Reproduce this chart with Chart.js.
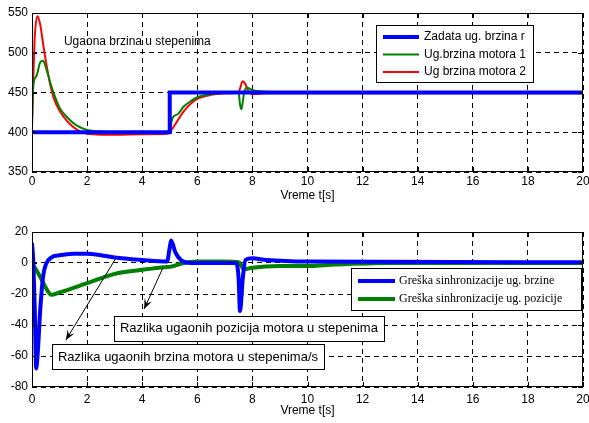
<!DOCTYPE html>
<html>
<head>
<meta charset="utf-8">
<script src="https://cdn.jsdelivr.net/npm/chart.js@4/dist/chart.umd.min.js"></script>
<style>
  body { margin: 0; background: #fff; }
  canvas { position: absolute; left: 0; }
</style>
</head>
<body>
<canvas id="cvTop" width="589" height="210" style="top:0"></canvas>
<canvas id="cvBottom" width="589" height="213" style="top:210px"></canvas>
<script>
// ---- top plot: angular speeds ----
const refT = [0, 5, 5, 20];
const refSpeed = [400, 400, 450, 450];

const m1T = [0, 0.05, 0.15, 0.3, 0.4, 0.5, 0.7, 1.0, 1.3, 1.6, 2.0, 2.5, 3, 4, 4.9, 5.0, 5.1, 5.3, 5.5, 5.8, 6.0, 6.5, 7.0, 7.5, 7.55, 7.6, 7.65, 7.7, 7.8, 8.0, 8.5, 9, 20];
const m1Speed = [410, 460, 470, 488, 490, 482, 458, 431, 418, 409, 403, 401, 400, 400, 400, 403, 418, 423, 432, 440, 444, 448, 450, 450, 435, 429, 438, 450, 456, 453, 451, 450, 450];

const m2T = [0, 0.05, 0.1, 0.2, 0.3, 0.4, 0.5, 0.65, 0.8, 1.0, 1.3, 1.6, 2.0, 2.5, 3, 4, 4.9, 5.0, 5.2, 5.5, 5.8, 6.0, 6.5, 7.0, 7.5, 7.55, 7.65, 7.75, 7.85, 8.0, 8.5, 9, 20];
const m2Speed = [410, 470, 520, 546, 535, 512, 490, 462, 442, 427, 413, 404, 398, 397, 397, 397.5, 398, 400, 410, 426, 437, 442, 447, 449, 450, 455, 464, 460, 452, 448, 449, 449, 449];

// ---- bottom plot: synchronisation errors ----
const velErrT = [0, 0.05, 0.1, 0.15, 0.2, 0.3, 0.4, 0.5, 0.7, 1, 1.5, 2, 2.5, 3, 4, 4.9, 5.0, 5.05, 5.2, 5.4, 5.8, 7.4, 7.5, 7.55, 7.65, 7.75, 8, 8.5, 10, 20];
const velErr = [13, 0, -30, -68, -60, -30, -9, -1, 3.5, 5, 6, 6, 5, 3.6, 2, 1, 10, 14.5, 7, 2, 0, 0, -10, -31, -10, 2, 3, 2, 1, 0.5];

const posErrT = [0, 0.3, 0.5, 0.7, 1, 2, 3, 4, 4.8, 5, 5.5, 6, 7, 7.5, 7.7, 8, 9, 10, 11, 13, 20];
const posErr = [0, -9, -16, -20.5, -19, -13, -7, -4.4, -2.7, -2.5, 0, 1, 1, 0.5, -4, -3, -2, -2, -1, 0, 0];

const xTicks = { min: 0, max: 20, step: 2 };
const topYTicks = { min: 350, max: 550, step: 50 };
const botYTicks = { min: -80, max: 20, step: 20 };

const topLabels = ['Zadata ug. brzina r', 'Ug.brzina motora 1', 'Ug brzina motora 2'];
const botLabels = ['Greška sinhronizacije ug. brzine', 'Greška sinhronizacije ug. pozicije'];
const xTitle = 'Vreme t[s]';

const pts = (t, v) => t.map((x, i) => ({ x: x, y: v[i] }));

const FONT = 'Liberation Sans, Arial, sans-serif';

// MATLAB-like axes box, inner ticks, notes, arrows and legend
const matlabBox = {
  id: 'matlabBox',
  afterDraw(chart, args, opts) {
    const { ctx, chartArea: a, scales: { x, y } } = chart;
    ctx.save();
    ctx.strokeStyle = '#000';
    ctx.lineWidth = 1;
    ctx.setLineDash([]);
    ctx.strokeRect(a.left + 0.5, a.top + 0.5, a.right - a.left - 1, a.bottom - a.top - 1);
    ctx.beginPath();
    x.ticks.forEach(t => {
      const p = Math.round(x.getPixelForValue(t.value)) + 0.5;
      ctx.moveTo(p, a.bottom); ctx.lineTo(p, a.bottom - 5);
      ctx.moveTo(p, a.top); ctx.lineTo(p, a.top + 5);
    });
    y.ticks.forEach(t => {
      const p = Math.round(y.getPixelForValue(t.value)) + 0.5;
      ctx.moveTo(a.left, p); ctx.lineTo(a.left + 5, p);
      ctx.moveTo(a.right, p); ctx.lineTo(a.right - 5, p);
    });
    ctx.stroke();

    // arrows (data coordinates)
    (opts.arrows || []).forEach(ar => {
      const x1 = x.getPixelForValue(ar.from[0]), y1 = y.getPixelForValue(ar.from[1]);
      const x2 = x.getPixelForValue(ar.to[0]), y2 = y.getPixelForValue(ar.to[1]);
      ctx.beginPath();
      ctx.moveTo(x1, y1); ctx.lineTo(x2, y2);
      ctx.stroke();
      const ang = Math.atan2(y2 - y1, x2 - x1);
      const hl = 10, hw = 4;
      ctx.beginPath();
      ctx.moveTo(x2, y2);
      ctx.lineTo(x2 - hl * Math.cos(ang) + hw * Math.sin(ang), y2 - hl * Math.sin(ang) - hw * Math.cos(ang));
      ctx.lineTo(x2 - hl * 0.6 * Math.cos(ang), y2 - hl * 0.6 * Math.sin(ang));
      ctx.lineTo(x2 - hl * Math.cos(ang) - hw * Math.sin(ang), y2 - hl * Math.sin(ang) + hw * Math.cos(ang));
      ctx.closePath();
      ctx.fillStyle = '#000';
      ctx.fill();
    });

    // text notes (data coordinates)
    ctx.textBaseline = 'middle';
    ctx.textAlign = 'left';
    (opts.notes || []).forEach(n => {
      ctx.font = (n.size || 12) + 'px ' + FONT;
      const px = x.getPixelForValue(n.x), py = y.getPixelForValue(n.y);
      if (n.box) {
        const w = ctx.measureText(n.text).width;
        ctx.fillStyle = '#fff';
        ctx.fillRect(px - 6, py - 12.5, w + 12, 25);
        ctx.strokeStyle = '#000';
        ctx.lineWidth = 1;
        ctx.strokeRect(Math.round(px - 6) + 0.5, Math.round(py - 12.5) + 0.5, Math.round(w + 12), 25);
      }
      ctx.fillStyle = '#000';
      ctx.fillText(n.text, px, py);
    });

    // legend
    const lg = opts.legend;
    if (lg) {
      ctx.fillStyle = '#fff';
      ctx.fillRect(lg.x, lg.y, lg.w, lg.h);
      ctx.strokeStyle = '#000';
      ctx.lineWidth = 1;
      ctx.strokeRect(lg.x + 0.5, lg.y + 0.5, lg.w, lg.h);
      ctx.font = lg.font;
      chart.data.datasets.forEach((ds, i) => {
        const ry = lg.y + lg.rowTop + i * lg.rowGap;
        ctx.strokeStyle = ds.borderColor;
        ctx.lineWidth = ds.borderWidth;
        ctx.beginPath();
        ctx.moveTo(lg.x + 7, ry); ctx.lineTo(lg.x + 7 + lg.lineLen, ry);
        ctx.stroke();
        ctx.fillStyle = '#000';
        ctx.fillText(ds.label, lg.x + lg.textX, ry);
      });
    }
    ctx.restore();
  }
};

function fixedAxis(size, isX) {
  return function (scale) {
    if (isX) scale.height = size; else scale.width = size;
    scale.paddingLeft = 0; scale.paddingRight = 0;
    scale.paddingTop = 0; scale.paddingBottom = 0;
  };
}

function makeOptions(yt, padTop, xHeight, titlePad, tickPad, pluginOpts) {
  const grid = { color: '#000', lineWidth: 1, drawTicks: false };
  return {
    responsive: false,
    animation: false,
    devicePixelRatio: 1,
    layout: { padding: { left: 0, right: 6, top: padTop, bottom: 0 } },
    plugins: { legend: { display: false }, tooltip: { enabled: false }, matlabBox: pluginOpts },
    elements: { point: { radius: 0 } },
    scales: {
      x: {
        type: 'linear', min: xTicks.min, max: xTicks.max,
        ticks: { stepSize: xTicks.step, color: '#000', font: { family: FONT, size: 12 }, padding: tickPad, maxRotation: 0 },
        grid: grid,
        border: { display: false, dash: [5, 4] },
        title: { display: true, text: xTitle, color: '#000', font: { family: FONT, size: 12 }, padding: { top: 0, bottom: titlePad } },
        afterFit: fixedAxis(xHeight, true)
      },
      y: {
        min: yt.min, max: yt.max,
        ticks: { stepSize: yt.step, color: '#000', font: { family: FONT, size: 12 }, padding: 4 },
        grid: grid,
        border: { display: false, dash: [5, 4] },
        afterFit: fixedAxis(32, false)
      }
    }
  };
}

new Chart(document.getElementById('cvTop'), {
  type: 'line',
  data: {
    datasets: [
      { label: topLabels[0], data: pts(refT, refSpeed), borderColor: '#0000ff', borderWidth: 4, tension: 0 },
      { label: topLabels[1], data: pts(m1T, m1Speed), borderColor: '#008000', borderWidth: 2, cubicInterpolationMode: 'monotone' },
      { label: topLabels[2], data: pts(m2T, m2Speed), borderColor: '#ff0000', borderWidth: 2, cubicInterpolationMode: 'monotone' }
    ]
  },
  options: makeOptions(topYTicks, 13, 38, 7, 2, {
    notes: [{ text: 'Ugaona brzina u stepenima', x: 1.16, y: 514 }],
    legend: { x: 376, y: 25, w: 157, h: 57, rowTop: 12, rowGap: 17.5, lineLen: 36, textX: 48, font: '12px ' + FONT }
  }),
  plugins: [matlabBox]
});

new Chart(document.getElementById('cvBottom'), {
  type: 'line',
  data: {
    datasets: [
      { label: botLabels[0], data: pts(velErrT, velErr), borderColor: '#0000ff', borderWidth: 4, cubicInterpolationMode: 'monotone' },
      { label: botLabels[1], data: pts(posErrT, posErr), borderColor: '#008000', borderWidth: 4, cubicInterpolationMode: 'monotone' }
    ]
  },
  options: makeOptions(botYTicks, 22, 36, 5, 5, {
    arrows: [
      { from: [3.05, 3.2], to: [1.23, -49.7] },
      { from: [4.75, -3.2], to: [4.07, -29.7] }
    ],
    notes: [
      { text: 'Razlika ugaonih pozicija motora u stepenima', x: 3.19, y: -42.3, box: true, size: 13 },
      { text: 'Razlika ugaonih brzina motora u stepenima/s', x: 0.94, y: -60.6, box: true, size: 13 }
    ],
    legend: { x: 351, y: 58, w: 230, h: 42, rowTop: 13, rowGap: 18, lineLen: 37, textX: 48, font: '12px Liberation Serif, Times New Roman, serif' }
  }),
  plugins: [matlabBox]
});
</script>
</body>
</html>
